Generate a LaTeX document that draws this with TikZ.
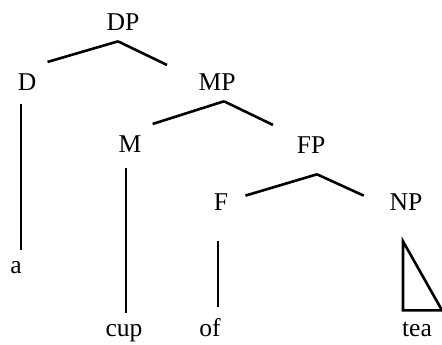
\documentclass[tikz,border=0pt]{standalone}
\usepackage{fontspec}
\setmainfont{Liberation Serif}

\begin{document}
\begin{tikzpicture}[x=0.5pt, y=-0.5pt, line width=1.3pt,
    cat/.style={anchor=base, inner sep=5pt, font=\fontsize{12.8}{14}\selectfont}]

    \useasboundingbox (0,0) rectangle (442,344);

    % categories
    \node[cat] (DP) at (123, 30) {DP};
    \node[cat] (D) at (27, 90) {D};
    \node[cat] (MP) at (217, 90) {MP};
    \node[cat] (M) at (130, 152) {M};
    \node[cat] (FP) at (311, 153) {FP};
    \node[cat] (F) at (221, 210) {F};
    \node[cat] (NP) at (406, 210) {NP};

    % words
    \node[cat] (a) at (16, 273) {a};
    \node[cat] (cup) at (124, 336) {cup};
    \node[cat] (of) at (210, 336) {of};
    \node[cat] (tea) at (417, 336) {tea};

    \draw ([xshift=-2.5pt]DP.south) -- (D.north east);
    \draw ([xshift=-2.5pt]DP.south) -- ([xshift=-25pt, yshift=-1.5pt]MP.north);
    \draw ([xshift=3.5pt]MP.south) -- (M.north east);
    \draw ([xshift=3.5pt]MP.south) -- ([xshift=-19pt]FP.north);
    \draw ([xshift=3pt, yshift=-5pt]FP.south) -- ([xshift=3pt, yshift=3pt]F.east);
    \draw ([xshift=3pt, yshift=-5pt]FP.south) -- ([xshift=-7.3pt, yshift=3pt]NP.west);

    \draw ([xshift=-3pt, yshift=-1.5pt]D.south) -- ([xshift=-3pt]D.south |- a.north);
    \draw ([xshift=-2pt, yshift=-2.5pt]M.south) -- ([xshift=-2pt]M.south |- cup.north);
    \draw ([xshift=-1.5pt, yshift=-10pt]F.south) -- ([xshift=-1.5pt]F.south |- of.north);

    % triangle over tea
    \draw ([xshift=-1.5pt, yshift=-10pt]NP.south) -- ([xshift=-1.5pt]NP.south |- tea.north)
        -- ([xshift=12.5pt]tea.north) -- cycle;

\end{tikzpicture}
\end{document}
